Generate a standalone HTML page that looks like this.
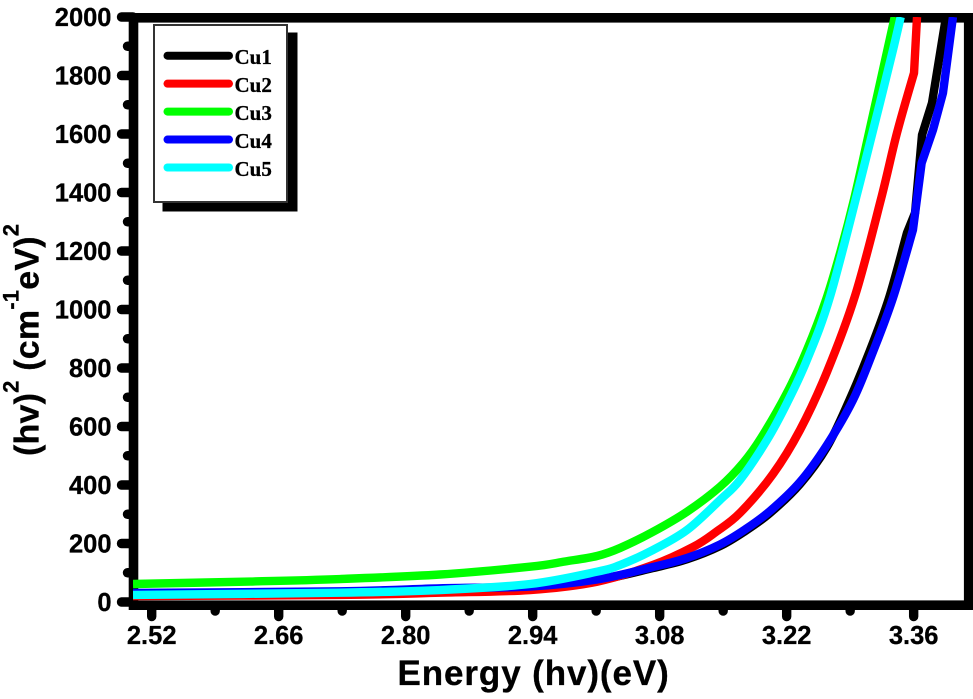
<!DOCTYPE html>
<html>
<head>
<meta charset="utf-8">
<title>Tauc plot</title>
<style>
html,body{margin:0;padding:0;background:#fff;}
svg{display:block;}
text{font-family:"Liberation Sans",Arial,sans-serif;font-weight:bold;fill:#000;stroke:#000;stroke-width:0.3px;}
.legend-text{font-family:"Liberation Serif",serif;font-size:21px;}
</style>
</head>
<body>
<svg id="chart" xmlns="http://www.w3.org/2000/svg" width="973" height="699" viewBox="0 0 973 699">
  <defs><clipPath id="plot-clip"><rect x="133" y="17" width="840" height="600"/></clipPath></defs>
  <rect x="0" y="0" width="973" height="699" fill="#fff"/>
  <g id="ticks"></g>
  <rect x="133.5" y="17.8" width="835.2" height="587.4" fill="none" stroke="#000" stroke-width="9.6"/>
  <g id="series" clip-path="url(#plot-clip)"></g>
  <g id="labels"></g>
  <text x="397.5" y="685" font-size="35" letter-spacing="0.9">Energy (hv)(eV)</text>
  <text transform="translate(38.5,456) rotate(-90)" font-size="34" letter-spacing="0.2">(hv)<tspan font-size="22" dy="-20">2</tspan><tspan dy="20"> (cm</tspan><tspan font-size="22" dy="-20">-1</tspan><tspan dy="20">eV)</tspan><tspan font-size="22" dy="-20">2</tspan></text>
  <g id="legend">
    <rect x="162.5" y="32.5" width="135" height="179" fill="#000"/>
    <rect x="154" y="25" width="133" height="177" fill="#fff" stroke="#333" stroke-width="2"/>
  </g>
</svg>
<script>
const xTickLabels = ["2.52", "2.66", "2.80", "2.94", "3.08", "3.22", "3.36"];
const xMinorTicks = [2.59, 2.73, 2.87, 3.01, 3.15, 3.29];
const yTickLabels = ["0", "200", "400", "600", "800", "1000", "1200", "1400", "1600", "1800", "2000"];
const yMinorTicks = [100, 300, 500, 700, 900, 1100, 1300, 1500, 1700, 1900];

const seriesNames = ["Cu1", "Cu2", "Cu3", "Cu4", "Cu5"];
const seriesColors = ["#000000", "#ff0000", "#00ff00", "#0000ff", "#00ffff"];

const cu1Energy = [2.4994, 2.7276, 2.8378, 2.937, 3.0109, 3.0726, 3.1101, 3.1465, 3.1741, 3.2016, 3.2347, 3.2644, 3.2887, 3.3107, 3.3328, 3.3526, 3.3615, 3.3692, 3.3802, 3.3956];
const cu1Values = [27.4, 34, 44.4, 49.6, 73.5, 116, 146, 191, 242, 304, 403, 530, 687, 851, 1039.4, 1261.6, 1330, 1596.7, 1706, 2000];
const cu2Energy = [2.4994, 2.7276, 2.8378, 2.937, 3.0109, 3.0726, 3.1167, 3.142, 3.1685, 3.2049, 3.2347, 3.2644, 3.2953, 3.3237, 3.3416, 3.3604, 3.3637];
const cu2Values = [20.5, 24, 31.8, 41, 69.4, 126.5, 188, 239.3, 304.3, 437.6, 588, 786.4, 1046, 1374, 1603.5, 1808.7, 2000];
const cu3Energy = [2.4994, 2.6284, 2.7276, 2.8378, 2.937, 2.9756, 3.0109, 3.0363, 3.0726, 3.1101, 3.1465, 3.1719, 3.1918, 3.2203, 3.2423, 3.2633, 3.2798, 3.2941, 3.3107, 3.3391];
const cu3Values = [61.5, 70, 78.6, 94, 120.7, 138.5, 157.3, 184.6, 240, 308.7, 394, 475, 560.7, 714.6, 861.6, 1032.5, 1203.5, 1374.4, 1603.5, 2000];
const cu4Energy = [2.4994, 2.7276, 2.8378, 2.937, 3.0109, 3.0726, 3.1101, 3.1465, 3.1741, 3.2016, 3.2347, 3.2644, 3.2931, 3.3151, 3.3372, 3.3592, 3.3688, 3.3813, 3.3923, 3.4033];
const cu4Values = [30.8, 36.6, 46.8, 53, 77, 119.7, 150.4, 196.6, 247.9, 311, 410.3, 536.8, 690.6, 854.8, 1039.4, 1272, 1501, 1614, 1740, 2000];
const cu5Energy = [2.4994, 2.7276, 2.8378, 2.937, 3.0109, 3.0363, 3.0726, 3.1101, 3.1465, 3.1685, 3.1983, 3.2203, 3.2423, 3.2677, 3.3007, 3.3228, 3.3372, 3.3457];
const cu5Values = [24, 31.8, 41, 61.5, 103.6, 126.5, 177.8, 246, 348.7, 417, 554, 680, 827, 1042.8, 1432.6, 1706, 1887, 2000];

const cu1Kinks = [3.3526, 3.3615, 3.3692, 3.3802];
const cu2Kinks = [3.3604];
const cu3Kinks = [];
const cu4Kinks = [3.3592, 3.3688, 3.3813, 3.3923];
const cu5Kinks = [];

const energySets = [cu1Energy, cu2Energy, cu3Energy, cu4Energy, cu5Energy];
const valueSets = [cu1Values, cu2Values, cu3Values, cu4Values, cu5Values];
const kinkSets = [cu1Kinks, cu2Kinks, cu3Kinks, cu4Kinks, cu5Kinks];

const NS = "http://www.w3.org/2000/svg";
function xScale(v) { return 151.7 + (v - 2.52) * 907.1; }
function yScale(v) { return 602 - v * 0.2925; }

function make(tag, attrs, parent) {
  const el = document.createElementNS(NS, tag);
  for (const k in attrs) el.setAttribute(k, attrs[k]);
  parent.appendChild(el);
  return el;
}

const ticksG = document.getElementById("ticks");
const labelsG = document.getElementById("labels");
const seriesG = document.getElementById("series");
const legendG = document.getElementById("legend");

function xTick(v, len, name) {
  const t = make("line", {x1: xScale(v), x2: xScale(v), y1: 606, y2: 606 + len, stroke: "#000", "stroke-width": 9.4, "stroke-linecap": "round"}, ticksG);
  
  
}
function yTick(v, len, name) {
  const t = make("line", {x1: 133, x2: 133 - len, y1: yScale(v), y2: yScale(v), stroke: "#000", "stroke-width": 9.4, "stroke-linecap": "round"}, ticksG);
  
  
}

xTickLabels.forEach(function (s) {
  const v = parseFloat(s);
  xTick(v, 10.5, "x-major-tick");
  const t = make("text", {x: xScale(v), y: 644, "font-size": 25.5, "text-anchor": "middle"}, labelsG);
  t.textContent = s;
  
  
});
xMinorTicks.forEach(function (v) { xTick(v, 5, "x-minor-tick"); });

yTickLabels.forEach(function (s) {
  const v = parseFloat(s);
  yTick(v, 11.5, "y-major-tick");
  const t = make("text", {x: 111.5, y: yScale(v) + 9, "font-size": 25.5, "text-anchor": "end"}, labelsG);
  t.textContent = s;
  
  
});
yMinorTicks.forEach(function (v) { yTick(v, 5.5, "y-minor-tick"); });

function smoothPath(energy, px, py, kinks) {
  const isKink = energy.map(function (e) { return kinks.indexOf(e) >= 0; });
  let d = "M" + px[0].toFixed(2) + " " + py[0].toFixed(2);
  for (let i = 0; i < px.length - 1; i++) {
    const a = isKink[i] ? i : Math.max(i - 1, 0);
    const b = isKink[i + 1] ? i + 1 : Math.min(i + 2, px.length - 1);
    const c1x = px[i] + (px[i + 1] - px[a]) / 6, c1y = py[i] + (py[i + 1] - py[a]) / 6;
    const c2x = px[i + 1] - (px[b] - px[i]) / 6, c2y = py[i + 1] - (py[b] - py[i]) / 6;
    d += "C" + c1x.toFixed(2) + " " + c1y.toFixed(2) + " " + c2x.toFixed(2) + " " + c2y.toFixed(2) + " " + px[i + 1].toFixed(2) + " " + py[i + 1].toFixed(2);
  }
  return d;
}

seriesNames.forEach(function (name, i) {
  const p = make("path", {
    d: smoothPath(energySets[i], energySets[i].map(xScale), valueSets[i].map(yScale), kinkSets[i]),
    fill: "none", stroke: seriesColors[i], "stroke-width": 8.4, "stroke-linejoin": "round"
  }, seriesG);
  
  

  const ly = 55.7 + i * 27.95;
  const l = make("line", {x1: 167.5, x2: 229, y1: ly, y2: ly, stroke: seriesColors[i], "stroke-width": 8, "stroke-linecap": "round"}, legendG);
  
  
  const t = make("text", {x: 234.5, y: ly + 8.5, "class": "legend-text"}, legendG);
  t.textContent = name;
  
  
});
</script>
</body>
</html>
